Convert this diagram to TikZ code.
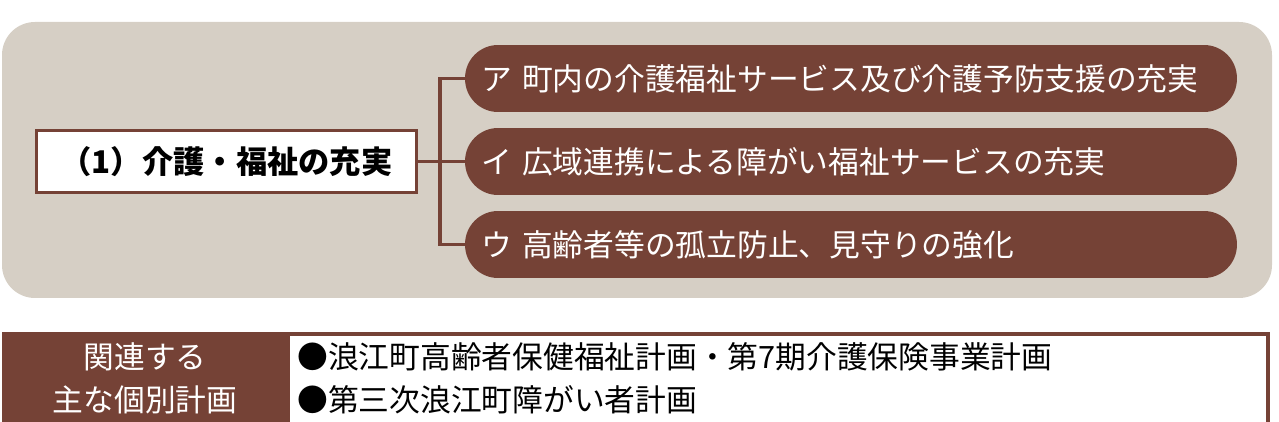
\documentclass[tikz,border=0pt]{standalone}
\usepackage{fontspec}
\setmainfont{Noto Sans CJK JP}
\usetikzlibrary{positioning, calc}
\definecolor{kbrown}{RGB}{117,66,54}
\definecolor{kbeige}{RGB}{214,207,197}

\begin{document}
\begin{tikzpicture}[x=0.02cm,y=-0.02cm,
  goal/.style={rectangle,draw=kbrown,fill=white,line width=0.06cm,
               minimum width=7.62cm,minimum height=1.26cm,align=center,
               font=\fontsize{17.8}{20}\selectfont\bfseries},
  pill/.style={rectangle,fill=kbrown,text=white,rounded corners=0.66cm,
               minimum width=15.44cm,minimum height=1.34cm,inner xsep=0.32cm,
               text width=14.8cm,align=left,font=\fontsize{17.5}{20}\selectfont},
  head/.style={rectangle,fill=kbrown,text=white,minimum width=5.72cm,
               minimum height=2.2cm,anchor=north west,inner sep=0pt},
  plan/.style={anchor=west,inner sep=0pt,font=\fontsize{17.5}{20}\selectfont},
  link/.style={draw=kbrown,line width=0.07cm}
]
  \clip (0,0) rectangle (1279,422);
  % background panel
  \fill[kbeige,rounded corners=0.66cm] (2,22) rectangle (1272,298);

  \node[goal] (goal) at (226.5,161.5) {（1）介護・福祉の充実};
  \node[pill] (pA) at (851,78.5)  {ア 町内の介護福祉サービス及び介護予防支援の充実};
  \node[pill] (pB) at (851,161.5) {イ 広域連携による障がい福祉サービスの充実};
  \node[pill] (pC) at (851,244.5) {ウ 高齢者等の孤立防止、見守りの強化};
  \coordinate (trunk) at (440,161.5);

  \draw[link] (goal) -- (pB);
  \draw[link] (pA.west) -| (trunk) |- (pC.west);

  % related plans table
  \node[head] (cell) at (2,332) {};
  \draw[kbrown,line width=0.08cm,fill=white] (288,334) rectangle (1268,440);
  \node[text=white,align=center,font=\fontsize{17.5}{24.5}\selectfont]
    (rel) at (145,378.5) {関連する\\主な個別計画};
  \node[plan] (plan1) at (297,357) {●浪江町高齢者保健福祉計画・第7期介護保険事業計画};
  \node[plan] (plan2) at (297,400) {●第三次浪江町障がい者計画};
\end{tikzpicture}
\end{document}
